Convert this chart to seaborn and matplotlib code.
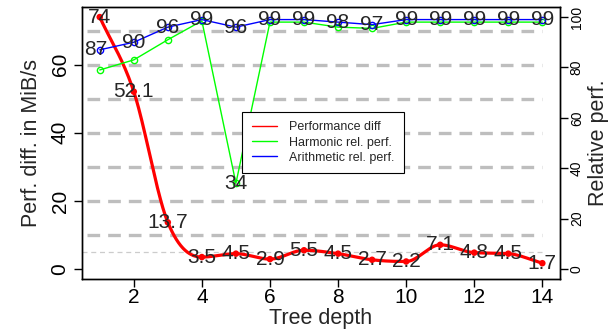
import numpy as np
import pandas as pd
import matplotlib
matplotlib.use("Agg")
import matplotlib.pyplot as plt
from matplotlib.lines import Line2D
import seaborn as sns

# Daten
tiefe = list(range(1, 15))
perf_diff = [74, 52.1, 13.7, 3.5, 4.5, 2.9, 5.5, 4.5, 2.7, 2.2, 7.1, 4.8, 4.5, 1.7]
perf_labels = ["74", "52.1", "13.7", "3.5", "4.5", "2.9", "5.5", "4.5", "2.7",
               "2.2", "7.1", "4.8", "4.5", "1.7"]
harm_rel = [79, 83, 91, 98.5, 34, 98, 98, 96, 95.5, 98, 98, 98, 98, 98]
arith_rel = [87, 90, 96, 99, 96, 99, 99, 98, 97, 99, 99, 99, 99, 99]
gitter = [10, 20, 30, 40, 50, 60, 70]


# geglaettete Kurve: Hermite-Spline, Tangente = Mittel der Sekanten,
# an lokalen Extrema flach (kein Ueberschwingen)
def glatte_kurve(x, y, n=400):
    x = np.asarray(x, float)
    y = np.asarray(y, float)
    h = np.diff(x)
    delta = np.diff(y) / h
    k = len(x)
    d = np.zeros(k)
    d[0] = delta[0]
    d[-1] = delta[-1]
    for i in range(1, k - 1):
        if delta[i - 1] * delta[i] > 0:
            d[i] = (delta[i - 1] + delta[i]) / 2
    # Fritsch-Carlson Begrenzung
    for i in range(k - 1):
        if delta[i] == 0:
            d[i] = d[i + 1] = 0
            continue
        a = d[i] / delta[i]
        b = d[i + 1] / delta[i]
        s = a * a + b * b
        if s > 9:
            tau = 3 / np.sqrt(s)
            d[i] = tau * a * delta[i]
            d[i + 1] = tau * b * delta[i]
    xs = np.linspace(x[0], x[-1], n)
    idx = np.clip(np.searchsorted(x, xs) - 1, 0, k - 2)
    t = (xs - x[idx]) / h[idx]
    h00 = 2 * t**3 - 3 * t**2 + 1
    h10 = t**3 - 2 * t**2 + t
    h01 = -2 * t**3 + 3 * t**2
    h11 = t**3 - t**2
    ys = (h00 * y[idx] + h10 * h[idx] * d[idx]
          + h01 * y[idx + 1] + h11 * h[idx] * d[idx + 1])
    return xs, ys


df = pd.DataFrame({"Tiefe": tiefe, "Diff": perf_diff,
                   "Harm": harm_rel, "Arith": arith_rel})
xs, ys = glatte_kurve(tiefe, perf_diff)
df_kurve = pd.DataFrame({"x": xs, "y": ys})

sns.set_style("ticks")
plt.rcParams["font.family"] = ["Liberation Sans", "DejaVu Sans"]

fig = plt.figure(figsize=(6.14, 3.33), dpi=100)
ax = fig.add_axes([0.1336, 0.162, 0.7785, 0.817])
ax2 = ax.twinx()

# Gitterlinien
ax.hlines(gitter, 0.62, 14, colors="#BEBEBE", linewidth=2.4,
          linestyles=(0, (3.8, 2.4)), zorder=1)
ax.hlines([5], 0.48, 14, colors="#CCCCCC", linewidth=0.9,
          linestyles=(0, (4, 3)), zorder=1)

# rote Linie (linke Achse)
sns.lineplot(data=df_kurve, x="x", y="y", ax=ax, color="#FF0000",
             linewidth=2.3, zorder=3, legend=False)
sns.scatterplot(data=df, x="Tiefe", y="Diff", ax=ax, color="#FF0000",
                s=22, edgecolor="none", zorder=4, legend=False)
for xv, yv, lab in zip(tiefe, perf_diff, perf_labels):
    ax.text(xv, yv, lab, ha="center", va="center", fontsize=15, zorder=5)

# relative Leistung (rechte Achse)
sns.lineplot(data=df, x="Tiefe", y="Harm", ax=ax2, color="#00FF00",
             linewidth=1, marker="o", markersize=4.5, markerfacecolor="none",
             markeredgecolor="#00FF00", markeredgewidth=1, legend=False)
sns.lineplot(data=df, x="Tiefe", y="Arith", ax=ax2, color="#0000FF",
             linewidth=1, marker="o", markersize=4.5, markerfacecolor="none",
             markeredgecolor="#0000FF", markeredgewidth=1, legend=False)
for i, (xv, yv) in enumerate(zip(tiefe, arith_rel)):
    ax2.annotate(str(yv), (xv, yv), xytext=(-3 if i == 0 else 0, 0),
                 textcoords="offset points", ha="center", va="center",
                 fontsize=15)
ax2.text(tiefe[4], harm_rel[4], str(harm_rel[4]), ha="center",
         va="center", fontsize=15)

# Achsen
ax.set_xlim(0.48, 14.52)
ax.set_ylim(-2.96, 76.96)
ax2.set_ylim(-4, 104)
ax.set_xticks([2, 4, 6, 8, 10, 12, 14])
ax.set_yticks([0, 20, 40, 60])
ax2.set_yticks([0, 20, 40, 60, 80, 100])
ax.set_xlabel("Tree depth", fontsize=15.5, labelpad=1)
ax.set_ylabel("Perf. diff. in MiB/s", fontsize=15.5, labelpad=6)
ax2.set_ylabel("Relative perf.", fontsize=15.5, labelpad=3)
ax.tick_params(axis="x", labelsize=15, length=6, width=1, pad=0.5, colors="black")
ax.tick_params(axis="y", labelsize=15, length=6, width=1, pad=3, colors="black")
ax2.tick_params(axis="y", labelsize=10, length=6, width=1, pad=1, colors="black")
plt.setp(ax.get_yticklabels(), rotation=90, va="center")
plt.setp(ax2.get_yticklabels(), rotation=90, va="center")
for a in (ax, ax2):
    for sp in a.spines.values():
        sp.set_visible(True)
        sp.set_color("black")
        sp.set_linewidth(1)

# Legende
handles = [Line2D([], [], color="#FF0000", linewidth=1),
           Line2D([], [], color="#00FF00", linewidth=1),
           Line2D([], [], color="#0000FF", linewidth=1)]
leg = ax2.legend(handles, ["Performance diff", "Harmonic rel. perf.",
                           "Arithmetic rel. perf."],
                 loc="upper left", bbox_to_anchor=(0.335, 0.614),
                 fontsize=9, frameon=True, fancybox=False, handlelength=2.0,
                 handletextpad=1.0, borderpad=0.75, labelspacing=0.25,
                 borderaxespad=0)
leg.get_frame().set_edgecolor("black")
leg.get_frame().set_linewidth(0.8)
leg.get_frame().set_alpha(1)

fig.savefig("out.png", dpi=100)
